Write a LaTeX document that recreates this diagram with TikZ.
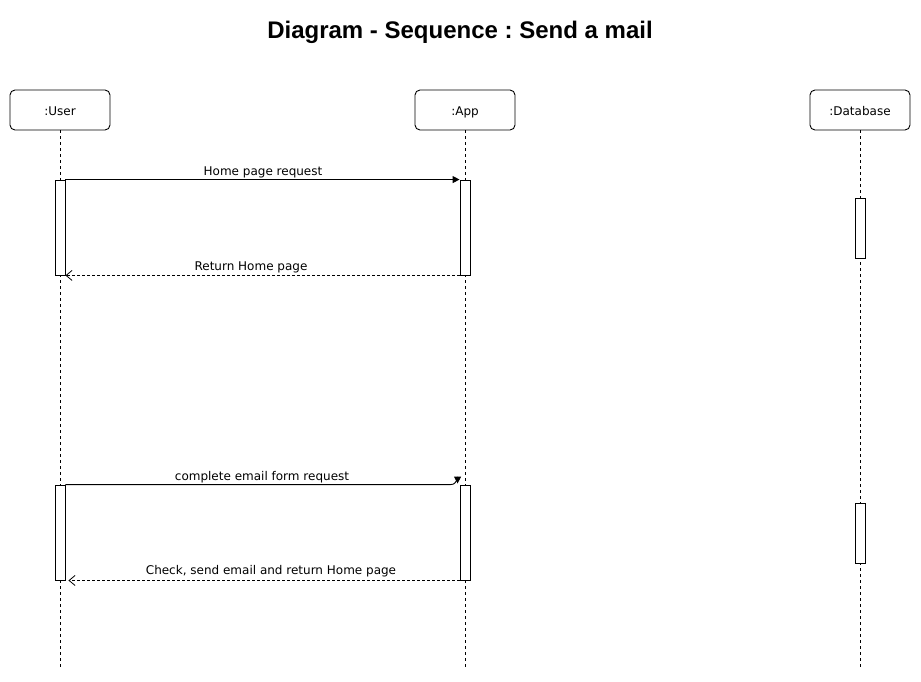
\documentclass[tikz,border=0pt]{standalone}
\usepackage{fontspec}
\setmainfont{DejaVu Sans}
\newfontfamily\titlefont{Liberation Sans}
\usetikzlibrary{arrows.meta}
\frenchspacing
\begin{document}
\begin{tikzpicture}[x=1pt,y=-1pt,
  lifebox/.style={draw,rounded corners=5pt,minimum width=100pt,minimum height=40pt,inner sep=0pt,font=\fontsize{12}{14}\selectfont,line width=0.9pt,text height=13pt,text depth=3pt},
  actbox/.style={draw,fill=white,minimum width=10pt,inner sep=0pt,line width=0.9pt},
  lifeline/.style={dashed,dash pattern=on 3pt off 3pt,line width=0.8pt},
  msg/.style={line width=0.9pt,-{Triangle[length=7pt,width=7pt]}},
  ret/.style={line width=0.9pt,dashed,dash pattern=on 3pt off 2pt,-{Straight Barb[length=6pt,width=10pt,line width=0.8pt]}},
  lbl/.style={font=\fontsize{12}{14}\selectfont,inner sep=0pt}]
\useasboundingbox (0,0) rectangle (921,681);
\node[font=\titlefont\bfseries\fontsize{24}{27}\selectfont] (title) at (460,32) {Diagram - Sequence : Send a mail};
% lifeline heads
\node[lifebox] (user) at (60,110) {:User};
\node[lifebox] (app) at (465,110) {:App};
\node[lifebox] (db) at (860,110) {:Database};
\coordinate (userend) at (60,668);
\coordinate (append) at (465,668);
\coordinate (dbend) at (860,668);
\draw[lifeline] (user.south) -- (userend);
\draw[lifeline] (app.south) -- (append);
\draw[lifeline] (db.south) -- (dbend);
% activations
\node[actbox,minimum height=95pt] (ua1) at (60,227.5) {};
\node[actbox,minimum height=95pt] (aa1) at (465,227.5) {};
\node[actbox,minimum height=60pt] (da1) at (860,228) {};
\node[actbox,minimum height=95pt] (ua2) at (60,532.5) {};
\node[actbox,minimum height=95pt] (aa2) at (465,532.5) {};
\node[actbox,minimum height=60pt] (da2) at (860,533) {};
% messages
\draw[msg] (ua1.north east) -- (aa1.north west);
\node[lbl] (m1) at (263,172) {Home page request};
\draw[ret] (aa1.south west) -- (ua1.south east);
\node[lbl] (m2) at (251,267) {Return Home page};
\draw[msg] (ua2.north east) -- ([xshift=-9pt]aa2.north west) .. controls ([xshift=-2pt]aa2.north west) and ([xshift=-2pt,yshift=8pt]aa2.north west) .. ([xshift=-2pt,yshift=1pt]aa2.north west);
\node[lbl] (m3) at (262,477) {complete email form request};
\draw[ret] (aa2.south west) -- ([xshift=3pt]ua2.south east);
\node[lbl] (m4) at (271,571) {Check, send email and return Home page};
\end{tikzpicture}
\end{document}
